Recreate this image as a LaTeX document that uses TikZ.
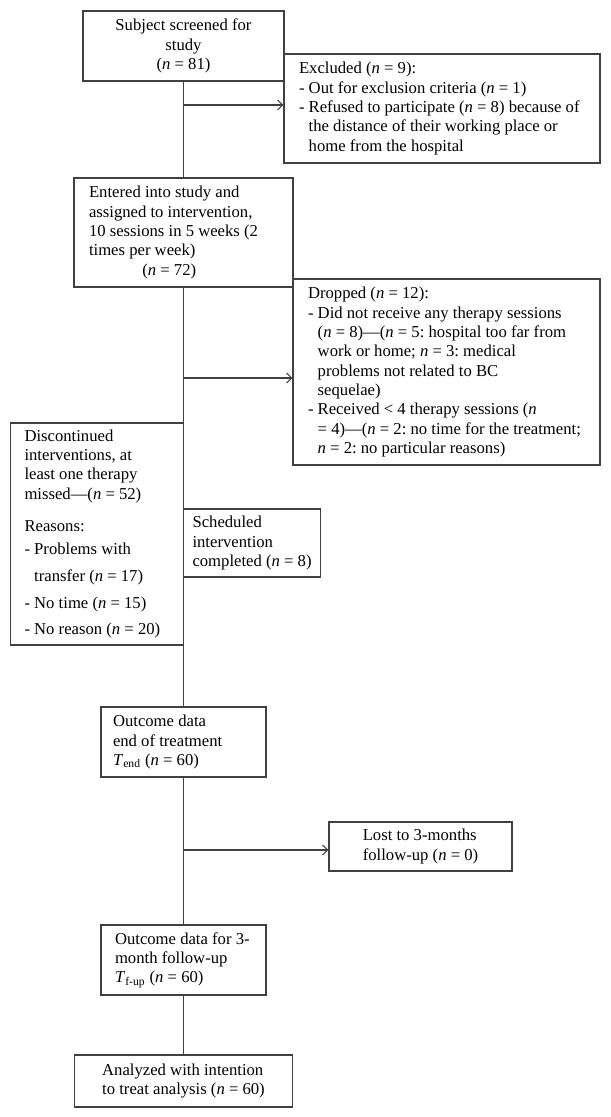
\documentclass[tikz,border=0pt]{standalone}
\usepackage{fontspec}
\setmainfont{Liberation Serif}
\usepackage{tikz}
\usetikzlibrary{arrows.meta}
\frenchspacing

\newcommand{\nn}[1]{(\textit{n} = #1)}
\newcommand{\ind}{\phantom{- }}

\begin{document}
\begin{tikzpicture}[x=0.6pt, y=-0.6pt, line width=0.7pt,
		box/.style={draw=black!75, rectangle, inner ysep=0pt, font=\fontsize{10}{11.6}\selectfont,
			execute at begin node={\spaceskip=0pt\xspaceskip=0pt}},
		lbox/.style={box, align=left, inner xsep=0pt},
		lpad/.style={execute at begin node={\leftskip=#1}},
		trunk/.style={draw=black!75},
		flow/.style={draw=black!75, -{Straight Barb[length=3pt, width=6pt]}}]
	\useasboundingbox (0, 0) rectangle (611, 1117);
	% main column
	\node[box, align=center, minimum width=120.6pt, minimum height=42pt] (screen) at (183.5, 46)
		{Subject screened for\\study\\\nn{81}};
	\node[lbox, lpad=9pt, text width=131.4pt, minimum height=65.4pt] (enter) at (183.5, 232.5)
		{Entered into study and\\assigned to intervention,\\10 sessions in 5 weeks (2\\times per week)\\\hspace*{32pt}\nn{72}};
	\node[lbox, lpad=7.2pt, text width=99pt, minimum height=42pt] (endt) at (183.5, 742)
		{Outcome data\\end of treatment\\\textit{T}\textsubscript{end} \nn{60}};
	\node[lbox, lpad=8.4pt, text width=99pt, minimum height=42pt] (fup) at (183.5, 960)
		{Outcome data for 3-\\month follow-up\\\textit{T}\textsubscript{f-up} \nn{60}};
	\node[box, align=left, minimum width=130.8pt, minimum height=31.2pt] (itt) at (183.5, 1081)
		{Analyzed with intention\\to treat analysis \nn{60}};
	% side boxes
	\node[lbox, lpad=9pt, text width=189.6pt, minimum height=65.4pt] (excl) at (442, 108.5)
		{Excluded \nn{9}:\\- Out for exclusion criteria \nn{1}\\- Refused to participate \nn{8} because of\\\ind the distance of their working place or\\\ind home from the hospital};
	\node[lbox, lpad=9pt, text width=184.2pt, minimum height=111.6pt] (drop) at (446.5, 372)
		{Dropped \nn{12}:\\- Did not receive any therapy sessions\\\ind\nn{8}—(\textit{n} = 5: hospital too far from\\\ind work or home; \textit{n} = 3: medical\\\ind problems not related to BC\\\ind sequelae)\\- Received < 4 therapy sessions (\textit{n}\\\ind = 4)—(\textit{n} = 2: no time for the treatment;\\\ind\textit{n} = 2: no particular reasons)};
	\node[lbox, lpad=8.4pt, text width=103.8pt, minimum height=133.2pt] (disc) at (97, 534)
		{Discontinued\\interventions, at\\least one therapy\\missed—\nn{52}\\[7.6pt]Reasons:\\[2.2pt]- Problems with\\[4.6pt]\ind transfer \nn{17}\\[4.6pt]- No time \nn{15}\\[4.4pt]- No reason \nn{20}};
	\node[lbox, lpad=5.4pt, text width=82.2pt, minimum height=40.8pt] (sched) at (252, 543)
		{Scheduled\\intervention\\completed \nn{8}};
	\node[box, align=left, minimum width=109.8pt, minimum height=29.4pt] (lost) at (420.5, 846.5)
		{Lost to 3-months\\follow-up \nn{0}};
	% connectors
	\draw[trunk] (screen.south) -- (enter.north);
	\draw[trunk] (enter.south) -- (endt.north);
	\draw[trunk] (endt.south) -- (fup.north);
	\draw[trunk] (fup.south) -- (itt.north);
	\coordinate (j1) at (183.5, 105);
	\coordinate (j2) at (183.5, 378);
	\coordinate (j3) at (183.5, 850);
	\draw[flow] (j1) -- (j1 -| excl.west);
	\draw[flow] (j2) -- (j2 -| drop.west);
	\draw[flow] (j3) -- (j3 -| lost.west);
\end{tikzpicture}
\end{document}
